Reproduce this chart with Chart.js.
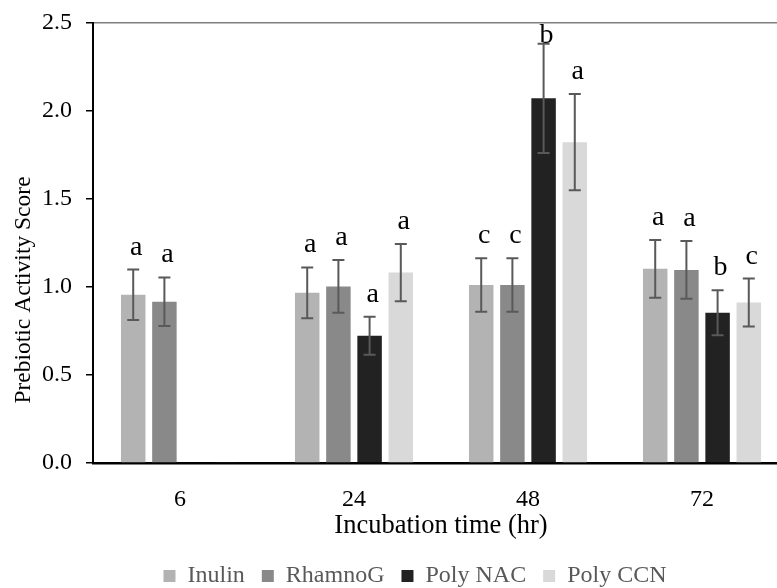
<!DOCTYPE html>
<html>
<head>
<meta charset="utf-8">
<script src="https://cdn.jsdelivr.net/npm/chart.js@4"></script>
<style>
    html, body { margin: 0; padding: 0; background: #fff; overflow: hidden; }
    #wrap { width: 796px; height: 588px; }
</style>
</head>
<body>
<div id="wrap"><canvas id="chart-prebiotic" width="796" height="588"></canvas></div>
<script>
/* ============================================================
   DATOS
============================================================ */
const HORAS = ["6", "24", "48", "72"];
const SERIES = ["Inulin", "RhamnoG", "Poly NAC", "Poly CCN"];

const INULIN   = [0.956, 0.967, 1.012, 1.103];
const RHAMNOG  = [0.916, 1.003, 1.012, 1.097];
const POLY_NAC = [0.004, 0.723, 2.072, 0.854];
const POLY_CCN = [0.004, 1.082, 1.823, 0.912];

const ERR_INULIN   = [0.143, 0.144, 0.152, 0.164];
const ERR_RHAMNOG  = [0.138, 0.150, 0.152, 0.164];
const ERR_POLY_NAC = [0, 0.108, 0.310, 0.128];
const ERR_POLY_CCN = [0, 0.163, 0.273, 0.136];

const LET_INULIN   = ["a", "a", "c", "a"];
const LET_RHAMNOG  = ["a", "a", "c", "a"];
const LET_POLY_NAC = ["", "a", "b", "b"];
const LET_POLY_CCN = ["", "a", "a", "c"];

const Y_TICKS = [0, 0.5, 1.0, 1.5, 2.0, 2.5];
const Y_TITULO = "Prebiotic Activity Score";

const COLORES = ["#b3b3b3", "#898989", "#222222", "#d9d9d9"];

const VALORES = [INULIN, RHAMNOG, POLY_NAC, POLY_CCN];
const ERRORES = [ERR_INULIN, ERR_RHAMNOG, ERR_POLY_NAC, ERR_POLY_CCN];
const LETRAS  = [LET_INULIN, LET_RHAMNOG, LET_POLY_NAC, LET_POLY_CCN];

const FUENTE = "'Liberation Serif', 'Times New Roman', serif";
Chart.defaults.font.family = FUENTE;

/* Barras de error + letras */
const errorBarsPlugin = {
    id: "errorBars",
    afterDatasetsDraw(chart) {
        const ctx = chart.ctx;
        const y = chart.scales.y;
        const top = chart.chartArea.top;

        chart.data.datasets.forEach((ds, i) => {
            const meta = chart.getDatasetMeta(i);
            meta.data.forEach((bar, j) => {
                const v = ds.data[j];
                const e = ERRORES[i][j];
                const yTop = y.getPixelForValue(v + e);
                const yBot = y.getPixelForValue(v - e);

                if (e > 0) {
                    ctx.save();
                    ctx.strokeStyle = "#595959";
                    ctx.lineWidth = 2;
                    ctx.beginPath();
                    ctx.moveTo(bar.x, yTop);
                    ctx.lineTo(bar.x, yBot);
                    ctx.moveTo(bar.x - 6, yTop);
                    ctx.lineTo(bar.x + 6, yTop);
                    ctx.moveTo(bar.x - 6, yBot);
                    ctx.lineTo(bar.x + 6, yBot);
                    ctx.stroke();
                    ctx.restore();
                }

                const letra = LETRAS[i][j];
                if (letra) {
                    const base = Math.max(yTop - 15, top + 20);
                    ctx.save();
                    ctx.fillStyle = "#000";
                    ctx.font = "28px " + FUENTE;
                    ctx.textAlign = "center";
                    ctx.textBaseline = "alphabetic";
                    ctx.fillText(letra, bar.x + 3, base);
                    ctx.restore();
                }
            });
        });
    }
};

/* Título eje Y (desplazado hacia abajo como en el original) */
const yTitlePlugin = {
    id: "yTitle",
    afterLayout(chart) {
        // la leyenda original no está centrada en el lienzo
        chart.legend.left += 41;
    },
    afterDraw(chart) {
        const ctx = chart.ctx;
        ctx.save();
        ctx.translate(24, 290);
        ctx.rotate(-Math.PI / 2);
        ctx.fillStyle = "#000";
        ctx.font = "23.5px " + FUENTE;
        ctx.textAlign = "center";
        ctx.textBaseline = "middle";
        ctx.fillText(Y_TITULO, 0, 0);
        ctx.restore();
    }
};

const datasets = SERIES.map((nombre, i) => ({
    label: nombre,
    data: VALORES[i],
    backgroundColor: COLORES[i],
    borderWidth: 0,
    categoryPercentage: 0.717,
    barPercentage: 0.785
}));

new Chart(document.getElementById("chart-prebiotic"), {
    type: "bar",
    data: { labels: HORAS, datasets },
    plugins: [errorBarsPlugin, yTitlePlugin],
    options: {
        responsive: false,
        animation: false,
        layout: { padding: { top: 22, right: 7, left: 0, bottom: 0 } },
        plugins: {
            tooltip: { enabled: false },
            legend: {
                position: "bottom",
                maxHeight: 41,
                labels: {
                    boxWidth: 12,
                    boxHeight: 12,
                    padding: 17,
                    color: "#595959",
                    font: { size: 24 }
                }
            }
        },
        scales: {
            x: {
                grid: { display: false },
                border: { display: true, color: "#000", width: 2.5 },
                ticks: { color: "#000", font: { size: 24 }, padding: 14 },
                title: {
                    display: true,
                    text: "Incubation time (hr)",
                    color: "#000",
                    font: { size: 26.5 },
                    padding: { top: 0, bottom: 5 }
                },
                afterFit(scale) { scale.height = 84; }
            },
            y: {
                min: 0,
                max: 2.5,
                afterBuildTicks(scale) {
                    scale.ticks = Y_TICKS.map(v => ({ value: v }));
                },
                grid: {
                    color: c => (c.tick && c.tick.value === 2.5) ? "#7f7f7f" : "rgba(0,0,0,0)",
                    lineWidth: 1.5,
                    tickColor: "#000",
                    tickLength: 7,
                    tickWidth: 1.5
                },
                border: { display: true, color: "#000", width: 2 },
                ticks: {
                    color: "#000",
                    font: { size: 24, lineHeight: 0.75 },
                    padding: 14,
                    callback: v => Number(v).toFixed(1)
                },
                afterFit(scale) { scale.width = 93; }
            }
        }
    }
});
</script>
</body>
</html>
